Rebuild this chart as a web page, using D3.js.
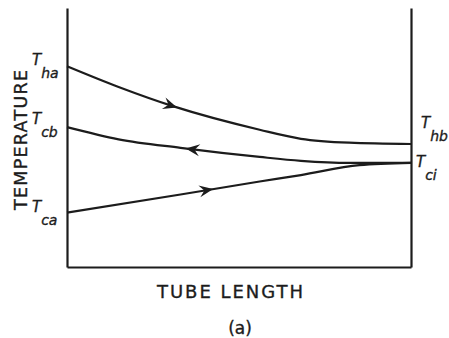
<html><head>
    <title>Temperature along tube</title>
    <script src="https://d3js.org/d3.v7.min.js"></script>
    <style>
        body { margin: 0; background: #fff; }
        text { font-family: "DejaVu Sans", Verdana, sans-serif; fill: #1c1c1c; stroke: #1c1c1c; stroke-width: 0.35; }
    </style>
</head>
<body>
<div id="p1"></div>

<script>
    const svgWidth = 449;
    const svgHeight = 338;
    const frameLeft = 67, frameRight = 411;
    const frameTop = 8, frameBottom = 267;

    // tube length as fraction, temperature in arbitrary units (0-100)
    const hotX = [0, 0.15, 0.31, 0.56, 0.68, 0.82, 1];
    const hotT = [77.5, 69.5, 62, 53, 49.5, 48, 47.5];
    const coldBX = [0, 0.15, 0.33, 0.56, 0.68, 0.82, 1];
    const coldBT = [54, 49.3, 46, 42.5, 41, 40.2, 40.2];
    const coldAX = [0, 0.33, 0.56, 0.68, 0.85, 1];
    const coldAT = [21, 28, 33, 35.5, 39.3, 40.2];

    // arrow positions (tube fraction) and direction (+1 right, -1 left)
    const arrowAt = [0.32, 0.345, 0.425];
    const arrowDir = [1, -1, 1];

    const xScale = d3.scaleLinear().domain([0, 1]).range([frameLeft, frameRight]);
    const yScale = d3.scaleLinear().domain([0, 100]).range([frameBottom, frameTop]);

    const svg = d3.select("#p1")
        .append("svg")
        .attr("width", svgWidth)
        .attr("height", svgHeight);

    // frame: left, right and bottom lines with no ticks
    svg.append("g")
        .attr("transform", "translate(" + frameLeft + ",0)")
        .call(d3.axisLeft(yScale).tickValues([]).tickSizeOuter(0));
    svg.append("g")
        .attr("transform", "translate(" + frameRight + ",0)")
        .call(d3.axisRight(yScale).tickValues([]).tickSizeOuter(0));
    svg.append("g")
        .attr("transform", "translate(0," + frameBottom + ")")
        .call(d3.axisBottom(xScale).tickValues([]).tickSizeOuter(0));
    svg.selectAll(".domain").attr("stroke", "#1c1c1c").attr("stroke-width", 2.2);

    const line = d3.line()
        .x(d => xScale(d[0]))
        .y(d => yScale(d[1]))
        .curve(d3.curveMonotoneX);

    const series = [
        d3.zip(hotX, hotT),
        d3.zip(coldBX, coldBT),
        d3.zip(coldAX, coldAT)
    ];

    const paths = series.map(s => svg.append("path")
        .datum(s)
        .attr("fill", "none")
        .attr("stroke", "#1c1c1c")
        .attr("stroke-width", 2.2)
        .attr("d", line));

    // arrowheads sitting on each curve
    paths.forEach((p, i) => {
        const node = p.node();
        const total = node.getTotalLength();
        const tx = xScale(arrowAt[i]);
        let lo = 0, hi = total;
        for (let k = 0; k < 30; k++) {
            const mid = (lo + hi) / 2;
            if (node.getPointAtLength(mid).x < tx) lo = mid; else hi = mid;
        }
        const a = node.getPointAtLength(lo);
        const b = node.getPointAtLength(Math.min(total, lo + 2));
        let ang = Math.atan2(b.y - a.y, b.x - a.x) * 180 / Math.PI;
        if (arrowDir[i] < 0) ang += 180;
        svg.append("path")
            .attr("d", "M0,0 L-14,-6 L-9,0 L-14,6 Z")
            .attr("fill", "#1c1c1c")
            .attr("transform", "translate(" + a.x + "," + a.y + ") rotate(" + ang + ")");
    });

    // T labels, subscript as a tspan under and right of the T
    function tLabel(x, y, sub) {
        const t = svg.append("text")
            .attr("x", x).attr("y", y)
            .attr("font-size", 15)
            .attr("font-style", "italic")
            .text("T");
        t.append("tspan")
            .attr("dy", 13)
            .attr("font-size", 14)
            .text(sub);
    }
    tLabel(32, yScale(hotT[0]) - 1, "ha");
    tLabel(32, yScale(coldBT[0]) - 3, "cb");
    tLabel(32, yScale(coldAT[0]) - 1, "ca");
    tLabel(421, yScale(hotT[hotT.length - 1]) - 16, "hb");
    tLabel(416, yScale(coldBT[coldBT.length - 1]) + 4, "ci");

    // axis titles
    svg.append("text")
        .attr("transform", "translate(27,140) rotate(-90)")
        .attr("text-anchor", "middle")
        .attr("font-size", 17.5)
        .attr("textLength", 140)
        .attr("lengthAdjust", "spacing")
        .text("TEMPERATURE");

    svg.append("text")
        .attr("x", 230).attr("y", 298)
        .attr("text-anchor", "middle")
        .attr("font-size", 18)
        .attr("textLength", 146)
        .attr("lengthAdjust", "spacing")
        .text("TUBE LENGTH");

    svg.append("text")
        .attr("x", 240).attr("y", 334)
        .attr("text-anchor", "middle")
        .attr("font-size", 17)
        .text("(a)");
</script>
</body></html>
